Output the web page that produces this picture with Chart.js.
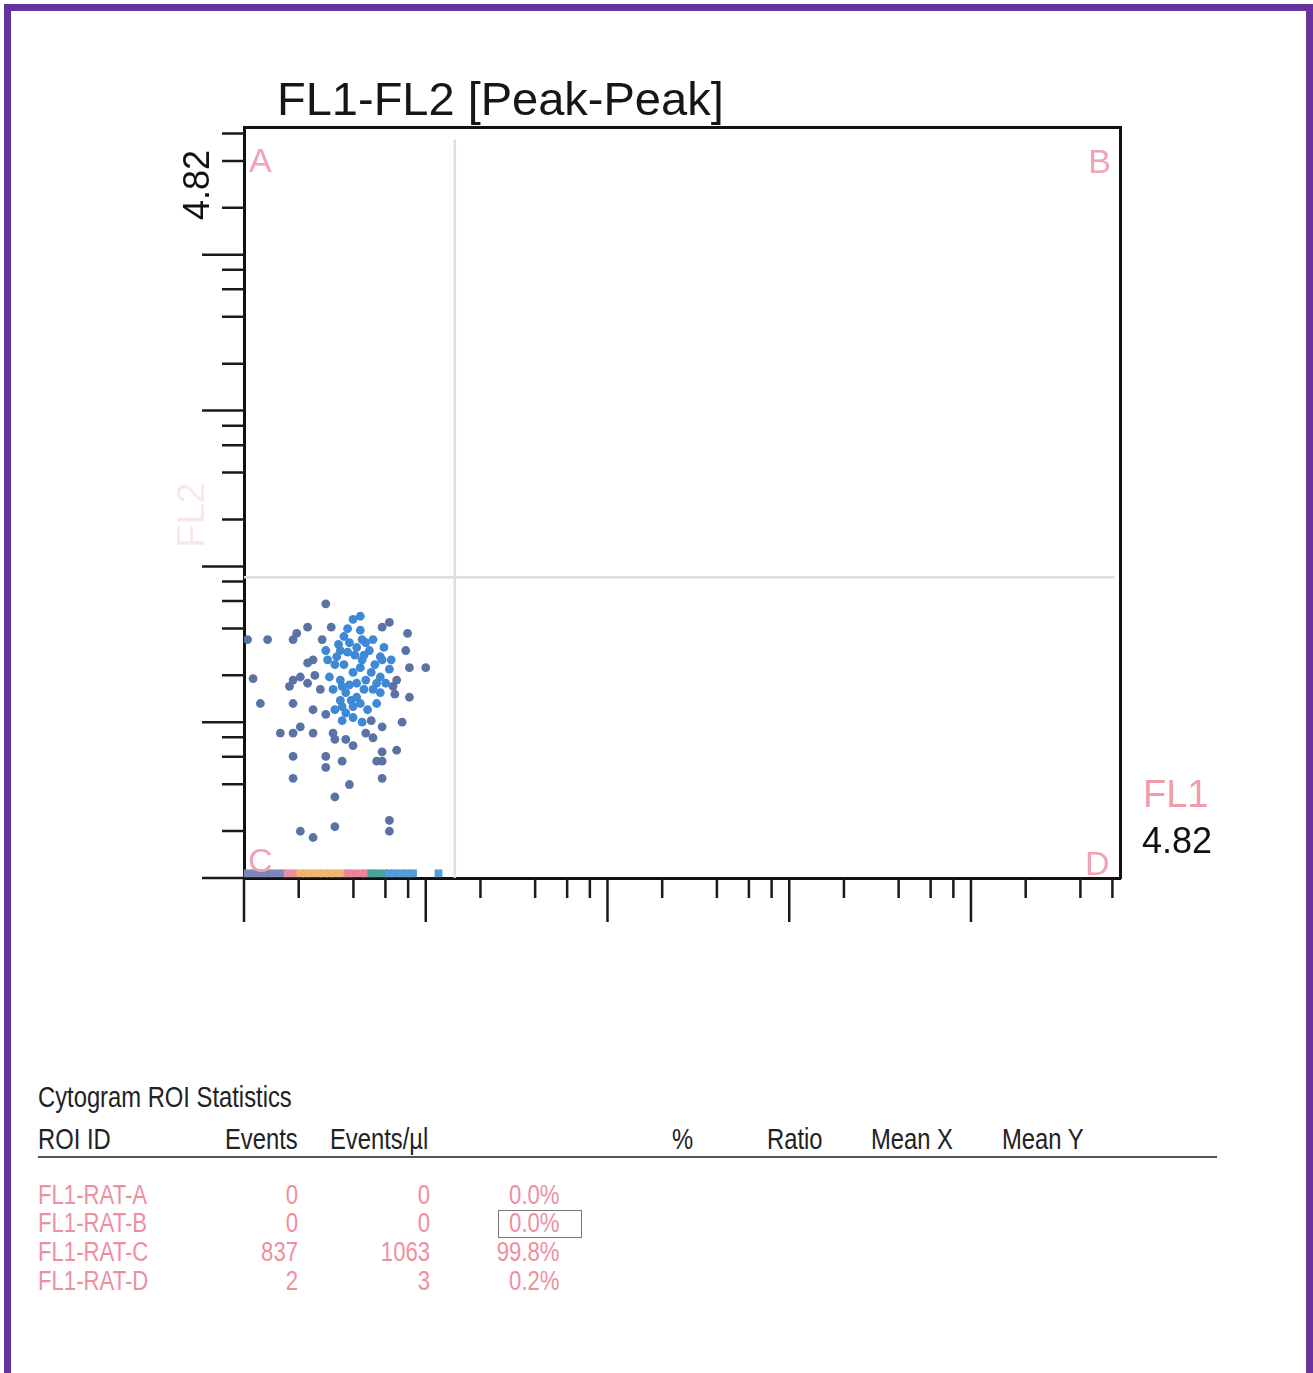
<!DOCTYPE html>
<html>
<head>
<meta charset="utf-8">
<title>FL1-FL2 [Peak-Peak]</title>
<script src="https://cdn.jsdelivr.net/npm/chart.js@4.4.1/dist/chart.umd.min.js"></script>
<style>
  html, body { margin: 0; padding: 0; background: #fff; }
  body { width: 1313px; height: 1373px; position: relative; overflow: hidden; }
  #frame { position: absolute; left: 4px; top: 4px; width: 1309px; height: 1420px; box-sizing: border-box; border: 7px solid #66339a; z-index: 2; pointer-events: none; }
  #plotBox { position: absolute; left: 0; top: 0; width: 1313px; height: 960px; }
  .stats { position: absolute; font-family: "Liberation Sans Narrow", "Arial Narrow", "Liberation Sans", Arial, sans-serif; white-space: nowrap; line-height: 1; transform: scaleX(0.82); }
  #pctBox { position: absolute; left: 498px; top: 1210px; width: 84px; height: 28px; box-sizing: border-box; border: 1.5px solid #777; }
  #statsRule { position: absolute; left: 38px; top: 1156px; width: 1179px; height: 2px; background: #555; }
</style>
</head>
<body>
<div id="frame"></div>
<div id="plotBox"><canvas id="cytogram"></canvas></div>
<div id="statsRule"></div>
<div id="pctBox"></div>
<script>
// values are read in log decades (axis goes 0 .. 4.82)
const axisMax = 4.82;
const chartTitle = 'FL1-FL2 [Peak-Peak]';
const quadrantNames = ['A', 'B', 'C', 'D'];

// dense centre of the population
const coreX = [0.64,0.60,0.55,0.58,0.62,0.67,0.71,0.51,0.69,0.75,0.76,0.47,0.53,0.60,0.64,0.67,0.75,0.78,0.49,0.56,0.62,0.71,0.75,0.54,0.56,0.60,0.64,0.73,0.54,0.60,0.65,0.53,0.61,0.55,0.65,0.50,0.58,0.66,0.53,0.72,0.80,0.64,0.45,
               0.52,0.57,0.66,0.70,0.62,0.54,0.46,0.77,0.59,0.68,0.50,0.73,0.65,0.57,0.81];
const coreY = [1.68,1.66,1.55,1.51,1.48,1.51,1.53,1.42,1.46,1.42,1.40,1.29,1.27,1.32,1.35,1.27,1.29,1.25,1.21,1.19,1.16,1.21,1.19,1.10,1.06,1.10,1.12,1.12,1.01,1.03,1.00,1.46,1.43,1.37,1.40,1.37,1.24,1.21,1.14,1.37,1.34,1.59,1.46,
               1.50,1.45,1.43,1.32,1.25,1.23,1.40,1.48,1.14,1.08,1.08,1.25,1.53,1.60,1.40];

// scattered events around it
const outerX = [0.45,0.80,0.76,0.35,0.29,0.27,0.48,0.02,0.13,0.90,0.89,0.38,0.35,0.91,1.00,0.05,0.27,0.25,0.35,0.31,0.82,0.84,0.09,0.27,0.38,0.45,0.91,0.70,0.76,0.87,0.20,0.27,0.31,0.38,0.49,0.50,0.56,0.60,0.67,0.71,0.76,0.84,0.27,0.45,0.45,0.54,0.73,0.76,0.27,0.58,0.76,0.50,0.80,0.80,0.50,0.31,0.38,0.42,0.39,0.83,0.43];
const outerY = [1.76,1.64,1.61,1.61,1.57,1.53,1.61,1.53,1.53,1.57,1.46,1.40,1.38,1.35,1.35,1.28,1.27,1.23,1.25,1.29,1.23,1.27,1.12,1.12,1.08,1.05,1.16,1.01,0.97,1.00,0.93,0.93,0.97,0.93,0.93,0.89,0.89,0.85,0.93,0.90,0.81,0.82,0.78,0.78,0.71,0.75,0.75,0.75,0.64,0.60,0.64,0.52,0.37,0.30,0.33,0.30,0.26,1.21,1.30,1.18,1.53];

// events piled on the FL2 floor
const floorX = [0.02,0.06,0.10,0.13,0.17,0.21,0.24,0.27,0.31,0.34,0.37,0.41,0.44,0.47,0.50,0.54,0.57,0.60,0.64,0.67,0.70,0.73,0.77,0.80,0.83,0.87,0.90,0.93,1.07];
const floorY = [0.03,0.03,0.03,0.03,0.03,0.03,0.03,0.03,0.03,0.03,0.03,0.03,0.03,0.03,0.03,0.03,0.03,0.03,0.03,0.03,0.03,0.03,0.03,0.03,0.03,0.03,0.03,0.03,0.03];

// quadrant gates
const gateVX = [1.16, 1.16];
const gateVY = [0, 4.74];
const gateHX = [0, 4.79];
const gateHY = [1.93, 1.93];

// tick marks: decades and 2,4,6,8 inside each decade
const decades = [0, 1, 2, 3, 4];
const minorSteps = [2, 4, 6, 8];

// statistics table
const statHeaders = ['ROI ID', 'Events', 'Events/µl', '%', 'Ratio', 'Mean X', 'Mean Y'];
const roiIds = ['FL1-RAT-A', 'FL1-RAT-B', 'FL1-RAT-C', 'FL1-RAT-D'];
const roiEvents = [0, 0, 837, 2];
const roiEventsPerUl = [0, 0, 1063, 3];
const roiPercent = ['0.0%', '0.0%', '99.8%', '0.2%'];

function zip(xs, ys) {
    return xs.map((x, i) => ({ x: x, y: ys[i] }));
}

function floorColor(ctx) {
    const v = ctx.raw ? ctx.raw.x : 0;
    if (v < 0.22) return '#7d86b6';
    if (v < 0.31) return '#ea8fa2';
    if (v < 0.55) return '#efb66e';
    if (v < 0.70) return '#e9849b';
    if (v < 0.78) return '#45a59c';
    return '#559cd8';
}

function buildLogTicks(scale) {
    const ticks = [];
    decades.forEach(d => {
        ticks.push({ value: d, major: true });
        minorSteps.forEach(m => {
            const v = d + Math.log10(m);
            if (v <= axisMax) ticks.push({ value: v, major: false });
        });
    });
    scale.ticks = ticks;
}

const tickMarks = {
    id: 'tickMarks',
    afterDraw(chart) {
        const { ctx, chartArea } = chart;
        const x = chart.scales.x, y = chart.scales.y;
        ctx.save();
        ctx.strokeStyle = '#1a1a1a';
        ctx.lineWidth = 2.5;
        ctx.beginPath();
        x.ticks.forEach(t => {
            const px = x.getPixelForValue(t.value);
            ctx.moveTo(px, chartArea.bottom);
            ctx.lineTo(px, chartArea.bottom + (t.major ? 44 : 20));
        });
        y.ticks.forEach(t => {
            const py = y.getPixelForValue(t.value);
            ctx.moveTo(chartArea.left, py);
            ctx.lineTo(chartArea.left - (t.major ? 42 : 22), py);
        });
        ctx.stroke();
        ctx.restore();
    }
};

const plotLabels = {
    id: 'plotLabels',
    afterDraw(chart) {
        const { ctx, chartArea: a } = chart;
        const sans = '"Liberation Sans", Arial, sans-serif';
        ctx.save();
        ctx.textBaseline = 'alphabetic';

        ctx.font = '47px ' + sans;
        ctx.fillStyle = '#161616';
        ctx.textAlign = 'left';
        ctx.fillText(chartTitle, a.left + 33, a.top - 12);

        // quadrant letters
        ctx.font = '34px ' + sans;
        ctx.fillStyle = '#f2a2b4';
        ctx.fillText(quadrantNames[0], a.left + 5, a.top + 45);
        ctx.textAlign = 'right';
        ctx.fillText(quadrantNames[1], a.right - 9, a.top + 46);
        ctx.textAlign = 'left';
        ctx.fillText(quadrantNames[2], a.left + 4, a.bottom - 6);
        ctx.fillText(quadrantNames[3], a.right - 35, a.bottom - 3);

        // x axis name and range
        ctx.font = '38px ' + sans;
        ctx.fillStyle = '#f09cab';
        ctx.fillText('FL1', a.right + 23, a.bottom - 71);
        ctx.font = '36px ' + sans;
        ctx.fillStyle = '#111';
        ctx.fillText(axisMax.toFixed(2), a.right + 22, a.bottom - 25);

        // y axis range, rotated
        ctx.save();
        ctx.translate(a.left - 35, a.top + 93);
        ctx.rotate(-Math.PI / 2);
        ctx.fillText(axisMax.toFixed(2), 0, 0);
        ctx.restore();

        // faded y axis name
        ctx.save();
        ctx.translate(a.left - 40, a.bottom - 363);
        ctx.rotate(-Math.PI / 2);
        ctx.textAlign = 'center';
        ctx.font = '38px ' + sans;
        ctx.fillStyle = '#f8e8ec';
        ctx.fillText('FL2', 0, 0);
        ctx.restore();

        ctx.restore();
    }
};

const hiddenAxis = (position) => ({
    type: 'linear',
    position: position,
    min: 0,
    max: axisMax,
    afterBuildTicks: buildLogTicks,
    ticks: { display: false },
    grid: { display: false, drawTicks: false },
    border: { display: true, color: '#111', width: 3 }
});

const ctx = document.getElementById('cytogram').getContext('2d');
new Chart(ctx, {
    type: 'scatter',
    data: {
        datasets: [
            {
                label: 'floor',
                data: zip(floorX, floorY),
                pointStyle: 'rect',
                pointRadius: 5.5,
                pointBorderWidth: 0,
                backgroundColor: floorColor,
                clip: false
            },
            {
                label: 'core',
                data: zip(coreX, coreY),
                pointRadius: 4.4,
                pointBorderWidth: 0,
                backgroundColor: '#3e88d6'
            },
            {
                label: 'outer',
                data: zip(outerX, outerY),
                pointRadius: 4.4,
                pointBorderWidth: 0,
                backgroundColor: '#5a72a6'
            },
            {
                label: 'gate FL1',
                data: zip(gateVX, gateVY),
                showLine: true,
                pointRadius: 0,
                borderColor: '#dedede',
                borderWidth: 2.5
            },
            {
                label: 'gate FL2',
                data: zip(gateHX, gateHY),
                showLine: true,
                pointRadius: 0,
                borderColor: '#dedede',
                borderWidth: 2.5
            }
        ]
    },
    options: {
        responsive: true,
        maintainAspectRatio: false,
        devicePixelRatio: 1,
        animation: false,
        layout: { padding: { left: 244, top: 127, right: 193, bottom: 82 } },
        plugins: {
            legend: { display: false },
            tooltip: { enabled: false },
            title: { display: false }
        },
        scales: {
            x: hiddenAxis('bottom'),
            y: hiddenAxis('left'),
            xTop: hiddenAxis('top'),
            yRight: hiddenAxis('right')
        }
    },
    plugins: [tickMarks, plotLabels]
});

// statistics block under the plot
function addText(text, opts) {
    const el = document.createElement('div');
    el.className = 'stats';
    el.textContent = text;
    el.style.fontSize = opts.size + 'px';
    el.style.top = (opts.baseline - Math.round(opts.size * 0.85)) + 'px';
    el.style.color = opts.color;
    if (opts.right !== undefined) {
        el.style.right = (1313 - opts.right) + 'px';
        el.style.transformOrigin = 'right center';
    } else {
        el.style.left = opts.left + 'px';
        el.style.transformOrigin = 'left center';
    }
    document.body.appendChild(el);
}

addText('Cytogram ROI Statistics', { left: 38, baseline: 1108, size: 29, color: '#222' });

const headerPos = [{ left: 38 }, { right: 298 }, { left: 330 }, { left: 672 }, { left: 767 }, { left: 871 }, { left: 1002 }];
statHeaders.forEach((h, i) => {
    addText(h, Object.assign({ baseline: 1150, size: 29, color: '#222' }, headerPos[i]));
});

const rowBaselines = [1205, 1233, 1262, 1291];
const pink = '#ee8f9e';
roiIds.forEach((id, i) => {
    const b = rowBaselines[i];
    addText(id, { left: 38, baseline: b, size: 27, color: pink });
    addText(String(roiEvents[i]), { right: 298, baseline: b, size: 27, color: pink });
    addText(String(roiEventsPerUl[i]), { right: 430, baseline: b, size: 27, color: pink });
    addText(roiPercent[i], { right: 560, baseline: b, size: 27, color: pink });
});
</script>
</body>
</html>
